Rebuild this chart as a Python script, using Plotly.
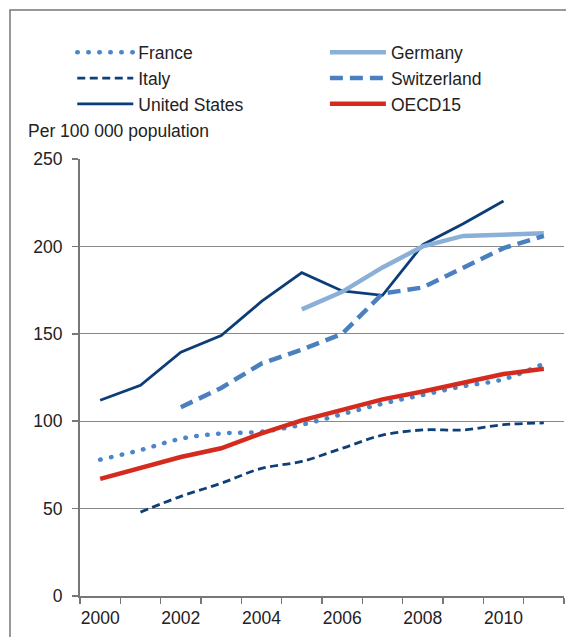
import plotly.graph_objects as go

years = [str(y) for y in range(2000, 2012)]
tick_text = ["2000", "", "2002", "", "2004", "", "2006", "", "2008", "", "2010", ""]

france = [78, 83.5, 90, 93, 94, 98, 104, 110, 115, 120, 124, 133]
germany = [None, None, None, None, None, 164, 174, 188, 200, 206, 206.5, 207.5]
italy = [None, 48, 57, 64.5, 73, 77, 84.5, 92, 95, 95, 98, 99]
switzerland = [None, None, 108, 119, 133, 141, 150, 173, 176.5, 188, 199, 206]
united_states = [112, 120.5, 139.5, 149, 168.5, 185, 174.5, 172, 201, 213, 226, None]
oecd15 = [67, 73, 79.5, 84.5, 93, 100.5, 106.5, 112.5, 117, 122, 127, 130]

FONT = "Liberation Sans, Arial, sans-serif"
fs = 17.5

fig = go.Figure()

def add(name, y, color, width, dash, legend, shape="linear"):
    fig.add_trace(go.Scatter(
        x=years, y=y, name=name, mode="lines",
        line=dict(color=color, width=width, dash=dash, shape=shape),
        connectgaps=False, legend=legend,
    ))

add("France", france, "#4a86c8", 4.5, "0.5px,10.5px", "legend", "spline")
add("Italy", italy, "#0f3f78", 2.8, "8px,4.5px", "legend", "spline")
add("United States", united_states, "#0c3d78", 2.8, None, "legend")
add("Germany", germany, "#8ab0d8", 4.5, None, "legend2")
add("Switzerland", switzerland, "#4a80c0", 4.5, "13px,7px", "legend2")
add("OECD15", oecd15, "#d52b1e", 4.5, None, "legend2")

legend_common = dict(
    orientation="v", bgcolor="rgba(0,0,0,0)", borderwidth=0,
    font=dict(family=FONT, size=fs, color="#222222"),
    itemwidth=56, tracegroupgap=0, traceorder="normal",
    xanchor="left", yanchor="top",
)

fig.update_layout(
    width=566, height=637,
    margin=dict(l=80, r=2, t=159, b=41, autoexpand=False),
    paper_bgcolor="white", plot_bgcolor="white",
    font=dict(family=FONT, size=fs, color="#222222"),
    showlegend=True,
    legend=dict(x=-0.016, y=1.285, **legend_common),
    legend2=dict(x=0.506, y=1.285, **legend_common),
    xaxis=dict(
        type="category", categoryorder="array", categoryarray=years,
        tickmode="array", tickvals=years, ticktext=tick_text,
        tickson="boundaries", ticks="outside", ticklen=6, tickwidth=1.5,
        tickcolor="#777777", showgrid=False, showline=True, tickangle=0,
        linecolor="#777777", linewidth=2, range=[-0.5, 11.5],
        tickfont=dict(family=FONT, size=fs, color="#222222"),
        ticklabelstandoff=5,
        zeroline=False, fixedrange=True, automargin=False,
    ),
    yaxis=dict(
        range=[0, 250], tickmode="linear", tick0=0, dtick=50,
        ticks="outside", ticklen=6, tickwidth=1.5, tickcolor="#777777",
        showgrid=True, gridcolor="#888888", gridwidth=1.2,
        showline=True, linecolor="#777777", linewidth=2,
        zeroline=False, tickfont=dict(family=FONT, size=fs, color="#222222"),
        ticklabelstandoff=6,
        fixedrange=True, automargin=False,
    ),
    annotations=[dict(
        text="Per 100 000 population", xref="paper", yref="paper",
        x=(26 - 80) / 484, y=(596 - 131) / 437, xanchor="left", yanchor="middle",
        showarrow=False, font=dict(family=FONT, size=fs, color="#222222"),
    )],
    shapes=[dict(
        type="rect", xref="paper", yref="paper",
        x0=(10 - 80) / 484, y0=-0.2, x1=1.2, y1=(596 - 10) / 437,
        line=dict(color="#777777", width=1.5), layer="below",
    )],
)

post = """
document.body.style.margin = '0';
document.body.style.padding = '0';
function roundDots(){
  document.querySelectorAll('path').forEach(function(p){
    var d = (p.style.strokeDasharray || '');
    if (d.indexOf('0.5px') === 0) { p.style.strokeLinecap = 'round'; }
  });
}
roundDots();
var gd = document.getElementById('{plot_id}');
if (gd && gd.on) { gd.on('plotly_afterplot', roundDots); }
"""

fig.write_html("out.html", post_script=post,
               config={"displayModeBar": False, "staticPlot": True})
